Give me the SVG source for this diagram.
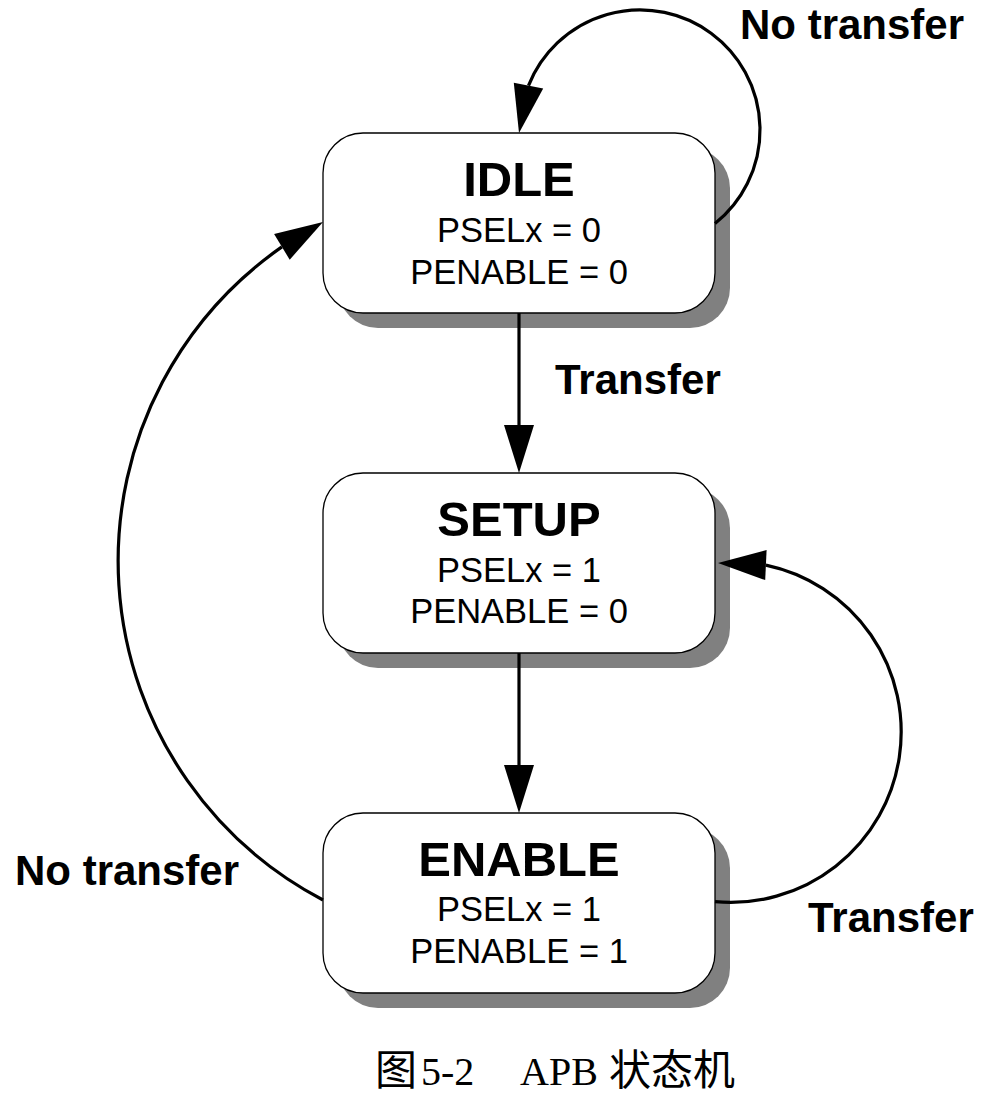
<svg xmlns="http://www.w3.org/2000/svg" width="990" height="1119" viewBox="0 0 990 1119">
<style>
.shadow{fill:#808080;stroke:none}
.box{fill:#ffffff;stroke:#000000;stroke-width:1.3}
.title{font-family:"Liberation Sans",Arial,sans-serif;font-weight:bold;font-size:49px;text-anchor:middle;fill:#000}
.sig{font-family:"Liberation Sans",Arial,sans-serif;font-size:34.5px;text-anchor:middle;fill:#000}
.lbl{font-family:"Liberation Sans",Arial,sans-serif;font-weight:bold;font-size:42px;fill:#000}
.edge{fill:none;stroke:#000;stroke-width:3.2}
.head{fill:#000;stroke:none}
.cap{font-family:"Liberation Serif","Noto Sans CJK SC",serif;font-size:40px;fill:#000}
.cjk{font-family:"Noto Sans CJK SC",sans-serif;font-size:42px}
</style>
<rect width="990" height="1119" fill="#ffffff"/>
<g id="idle">
<rect class="shadow" x="338" y="148" width="392" height="180" rx="40" ry="40"/>
<rect class="box" x="323" y="133" width="392" height="180" rx="40" ry="40"/>
<text class="title" x="519" y="196">IDLE</text>
<text class="sig" x="519" y="242">PSELx = 0</text>
<text class="sig" x="519" y="284">PENABLE = 0</text>
</g>
<g id="setup">
<rect class="shadow" x="338" y="488" width="392" height="180" rx="40" ry="40"/>
<rect class="box" x="323" y="473" width="392" height="180" rx="40" ry="40"/>
<text class="title" x="519" y="536">SETUP</text>
<text class="sig" x="519" y="582">PSELx = 1</text>
<text class="sig" x="519" y="623">PENABLE = 0</text>
</g>
<g id="enable">
<rect class="shadow" x="338" y="828" width="392" height="180" rx="40" ry="40"/>
<rect class="box" x="323" y="813" width="392" height="180" rx="40" ry="40"/>
<text class="title" x="519" y="876">ENABLE</text>
<text class="sig" x="519" y="921">PSELx = 1</text>
<text class="sig" x="519" y="963">PENABLE = 1</text>
</g>
<g id="connectors">
<line class="edge" x1="519" y1="313" x2="519" y2="426"/>
<polygon class="head" points="504,425 534,425 519,473"/>
<line class="edge" x1="519" y1="653" x2="519" y2="766"/>
<polygon class="head" points="504,765 534,765 519,813"/>
<path class="edge" d="M715,223.6 A120,120 0 1 0 528.5,85.6"/>
<polygon class="head" points="543.2,88.5 513.8,82.7 519,133"/>
<path class="edge" d="M323,900 A383,383 0 0 1 281.9,246.9"/>
<polygon class="head" points="289.7,259.7 274.1,234.1 323,222"/>
<path class="edge" d="M715,901.7 A170.5,170.5 0 0 0 765.9,565.1"/>
<polygon class="head" points="766.6,550.1 765.2,580.1 718,563"/>
<text class="lbl" x="740" y="39">No transfer</text>
<text class="lbl" x="555" y="394">Transfer</text>
<text class="lbl" x="15" y="885">No transfer</text>
<text class="lbl" x="808" y="932">Transfer</text>
</g>
<g id="caption">
<text class="cap" y="1085"><tspan class="cjk" x="375" font-size="41">图</tspan><tspan x="421">5-2</tspan><tspan x="520">APB</tspan><tspan class="cjk" x="609">状态机</tspan></text>
</g>
</svg>
